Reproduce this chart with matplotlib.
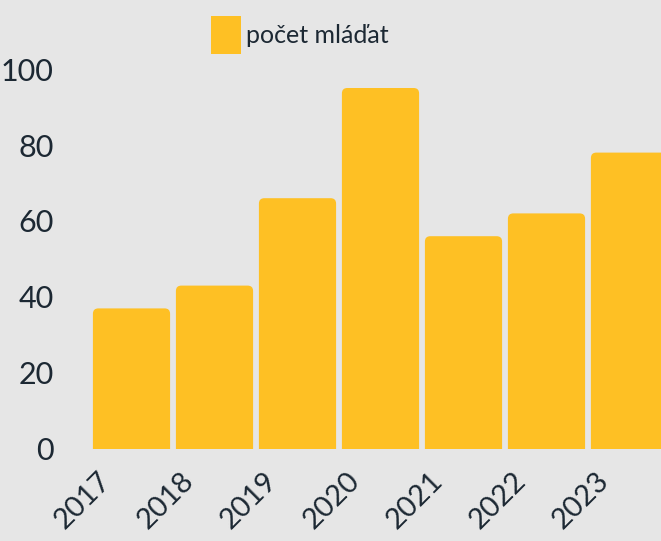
import matplotlib
matplotlib.use('Agg')
import matplotlib.pyplot as plt
from matplotlib.patches import FancyBboxPatch, Patch
from matplotlib.transforms import ScaledTranslation

years = ['2017', '2018', '2019', '2020', '2021', '2022', '2023']
counts = [37, 43, 66, 95, 56, 62, 78]
series_name = 'počet mláďat'

bg = '#e6e6e6'
bar_color = '#fec024'
text_color = '#1c2833'

plt.rcParams['font.family'] = ['Lato', 'DejaVu Sans']

fig = plt.figure(figsize=(6.61, 5.41), dpi=100, facecolor=bg)
ax = fig.add_axes([90 / 661, 92 / 541, 581 / 661, 380 / 541])
ax.set_facecolor(bg)

x = list(range(len(years)))
bars = ax.bar(x, counts, width=0.93, color=bar_color)

# swap plain rectangles for ones with rounded tops
for b in bars:
    bx, bw, bh = b.get_x(), b.get_width(), b.get_height()
    b.remove()
    p = FancyBboxPatch((bx, -3), bw, bh + 3,
                       boxstyle='round,pad=0,rounding_size=0.065',
                       mutation_aspect=22, facecolor=bar_color,
                       edgecolor='none')
    ax.add_patch(p)

ax.set_xlim(-0.5, len(years) - 0.5)
ax.set_ylim(0, 100)
ax.set_yticks(range(0, 101, 20))
ax.set_xticks(x)
ax.set_xticklabels(years)

for s in ax.spines.values():
    s.set_visible(False)

ax.tick_params(axis='y', length=0, pad=26, labelsize=22, labelcolor=text_color)
ax.tick_params(axis='x', length=0, pad=13, labelsize=21, labelcolor=text_color)

offset = ScaledTranslation(-0.34, 0, fig.dpi_scale_trans)
for lab in ax.get_xticklabels():
    lab.set_rotation(45)
    lab.set_rotation_mode('anchor')
    lab.set_ha('right')
    lab.set_va('top')
    lab.set_transform(lab.get_transform() + offset)

handle = Patch(facecolor=bar_color, edgecolor='none')
fig.legend([handle], [series_name], loc='upper left',
           bbox_to_anchor=(211 / 661, 1 - 16 / 541), frameon=False,
           fontsize=18, labelcolor=text_color, handlelength=1.2,
           handleheight=1.96, handletextpad=0.2, borderpad=0,
           borderaxespad=0)

fig.savefig('out.png', dpi=100, facecolor=bg)
